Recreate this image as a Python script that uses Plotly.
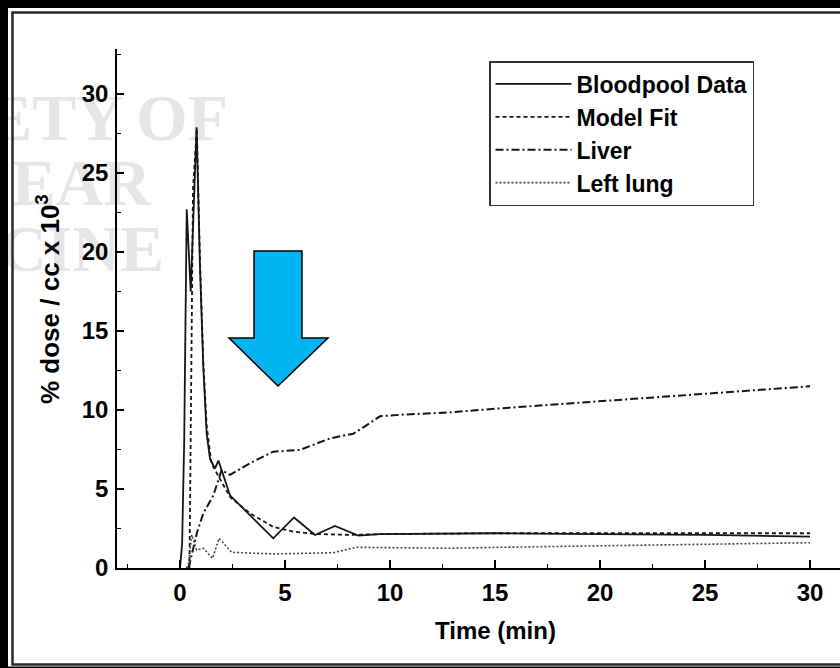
import plotly.graph_objects as go

# ---------------- data ----------------
blood_t = [0.0, 0.1, 0.2, 0.32, 0.51, 0.79, 0.95, 1.11, 1.27, 1.43, 1.67, 1.83,
           2.38, 4.44, 5.43, 6.43, 7.38, 8.49, 9.5, 15, 20, 25, 30]
blood_y = [0.0, 1.5, 8.0, 22.7, 17.5, 27.9, 19.1, 12.7, 8.5, 6.9, 6.3, 6.8,
           4.6, 1.88, 3.2, 2.09, 2.66, 2.05, 2.15, 2.2, 2.15, 2.1, 1.98]

fit_t = [0.45, 0.55, 0.62, 0.8, 0.95, 1.11, 1.27, 1.5, 1.9, 2.38, 3.33, 4.44,
         5.4, 6.5, 8, 10, 15, 20, 25, 30]
fit_y = [0.0, 12.0, 24.0, 27.8, 19.5, 13.0, 9.0, 6.6, 5.6, 4.5, 3.46, 2.6,
         2.3, 2.15, 2.1, 2.15, 2.2, 2.2, 2.2, 2.2]

liver_t = [0.4, 0.48, 0.8, 1.11, 1.59, 1.98, 2.38, 3.33, 4.44, 5.71, 7.14, 8.25,
           8.73, 9.52, 10.5, 12.86, 15.2, 22.6, 30]
liver_y = [0.0, 0.4, 2.2, 3.46, 4.6, 6.2, 5.9, 6.63, 7.36, 7.47, 8.2, 8.5,
           8.9, 9.6, 9.7, 9.85, 10.1, 10.8, 11.5]

lung_t = [0.3, 0.4, 0.56, 0.79, 1.11, 1.55, 1.86, 2.46, 4.44, 7.3, 8.4, 12.9, 15.2, 30]
lung_y = [0.0, 0.2, 2.1, 1.14, 1.25, 0.61, 1.88, 0.99, 0.89, 0.97, 1.31, 1.25, 1.31, 1.6]

series_names = ["Bloodpool Data", "Model Fit", "Liver", "Left lung"]
x_tick_vals = [0, 5, 10, 15, 20, 25, 30]
y_tick_vals = [0, 5, 10, 15, 20, 25, 30]
x_title = "Time (min)"
y_title = "% dose / cc x 10<sup>3</sup>"
watermark_lines = ["ETY", "OF", "EAR", "CINE"]

# ---------------- layout geometry ----------------
W, H = 840, 668
ML, MR, MT, MB = 117, 0, 49, 100
PW, PH = W - ML - MR, H - MT - MB
X0PX, XSCALE = 180.0, 21.0      # pixel of t=0, pixels per minute
Y0PX, YSCALE = 568.0, 15.8      # pixel of y=0, pixels per unit


def px(x, y):
    """pixel -> paper coords"""
    return (x - ML) / PW, (H - MB - y) / PH


def dx(p):
    return (p - X0PX) / XSCALE


def dy(p):
    return (Y0PX - p) / YSCALE


FONT = "Liberation Sans, Arial, sans-serif"
INK = "#151515"

fig = go.Figure()

# faint watermark behind everything (right ends / vertical centres in pixels)
wm_x = [dx(124), dx(228), dx(151), dx(164)]
wm_y = [dy(123), dy(123), dy(188), dy(254)]
fig.add_trace(go.Scatter(
    x=wm_x, y=wm_y, mode="text", text=watermark_lines, textposition="middle left",
    textfont=dict(family="Liberation Serif, Times New Roman, serif", size=66,
                  color="#e6e6e6", weight="bold"),
    cliponaxis=False, showlegend=False, hoverinfo="skip"))

styles = [
    dict(color=INK, width=1.8, dash="solid"),
    dict(color=INK, width=1.8, dash="4px,3px"),
    dict(color=INK, width=2.0, dash="8px,3px,2px,3px"),
    dict(color="#444444", width=1.6, dash="2px,2px"),
]
data = [(blood_t, blood_y), (fit_t, fit_y), (liver_t, liver_y), (lung_t, lung_y)]
for i, ((t, v), name, st) in enumerate(zip(data, series_names, styles)):
    fig.add_trace(go.Scatter(x=t, y=v, mode="lines", name=name, line=st,
                             legendgroup=f"g{i}", cliponaxis=True))

# ---------------- decorations: frame + arrow ----------------
shapes = []
x0, y0 = px(0, 0)
x1, y1 = px(840, 668)
xa, ya = px(8, 8)
# black outer band (top, left, bottom)
shapes.append(dict(type="rect", xref="paper", yref="paper", x0=x0, x1=x1, y0=ya, y1=y0,
                   fillcolor="black", line=dict(width=0), layer="above"))
shapes.append(dict(type="rect", xref="paper", yref="paper", x0=x0, x1=xa, y0=y1, y1=y0,
                   fillcolor="black", line=dict(width=0), layer="above"))
xb, yb = px(0, 666.5)
shapes.append(dict(type="rect", xref="paper", yref="paper", x0=x0, x1=x1, y0=y1, y1=yb,
                   fillcolor="black", line=dict(width=0), layer="above"))
# inner dark frame line
fl, ft = px(12.5, 12.5)
fr, fb = px(845, 664.5)
shapes.append(dict(type="rect", xref="paper", yref="paper", x0=fl, x1=fr, y0=fb, y1=ft,
                   line=dict(color="#2a2a2a", width=2.5), fillcolor="rgba(0,0,0,0)",
                   layer="above"))
# blue down arrow
arrow_px = [(254, 251), (302, 251), (302, 338), (328, 338), (278, 386), (229, 338), (254, 338)]
pts = [px(a, b) for a, b in arrow_px]
path = "M " + " L ".join(f"{a:.5f},{b:.5f}" for a, b in pts) + " Z"
shapes.append(dict(type="path", xref="paper", yref="paper", path=path,
                   fillcolor="#00b4f0", line=dict(color="black", width=1.5), layer="above"))

tickfont = dict(family=FONT, size=24, color="black", weight="bold")

annotations = [
    dict(text=x_title, x=15, xref="x", y=px(0, 630)[1], yref="paper", showarrow=False,
         xanchor="center", yanchor="middle",
         font=dict(family=FONT, size=24, color="black", weight="bold")),
    dict(text=y_title, x=px(48, 0)[0], xref="paper", y=px(0, 299)[1], yref="paper",
         showarrow=False, textangle=-90, xanchor="center", yanchor="middle",
         font=dict(family=FONT, size=26, color="black", weight="bold")),
]

lx, ly = px(489, 61)
fig.update_layout(
    width=W, height=H,
    margin=dict(l=ML, r=MR, t=MT, b=MB, pad=0),
    paper_bgcolor="white", plot_bgcolor="white",
    shapes=shapes, annotations=annotations,
    showlegend=True,
    legend=dict(x=lx, y=ly, xanchor="left", yanchor="top", bgcolor="white",
                bordercolor="#333333", borderwidth=1.5, itemwidth=76, tracegroupgap=0,
                font=dict(family=FONT, size=23, color="black", weight="bold")),
    xaxis=dict(range=[dx(ML), dx(W - MR)], showline=True,
               linecolor="black", linewidth=1.5, mirror=False,
               ticks="inside", ticklen=8, tickwidth=1.5, tickcolor="black",
               tickvals=x_tick_vals, showgrid=False, zeroline=False,
               tickfont=tickfont, ticklabelstandoff=2,
               minor=dict(dtick=2.5, tick0=0, ticks="inside", ticklen=4,
                          tickcolor="black", tickwidth=1.2, showgrid=False)),
    yaxis=dict(range=[dy(H - MB), dy(MT)], showline=True,
               linecolor="black", linewidth=1.5, mirror=False,
               ticks="inside", ticklen=7, tickwidth=1.5, tickcolor="black",
               tickvals=y_tick_vals, showgrid=False, zeroline=False,
               tickfont=tickfont, ticklabelstandoff=2,
               minor=dict(dtick=2.5, tick0=0, ticks="inside", ticklen=4,
                          tickcolor="black", tickwidth=1.2, showgrid=False)),
)

fig.write_html("out.html",
               config={"displayModeBar": False},
               post_script="document.body.style.margin='0';"
                           "document.body.style.overflow='hidden';")
